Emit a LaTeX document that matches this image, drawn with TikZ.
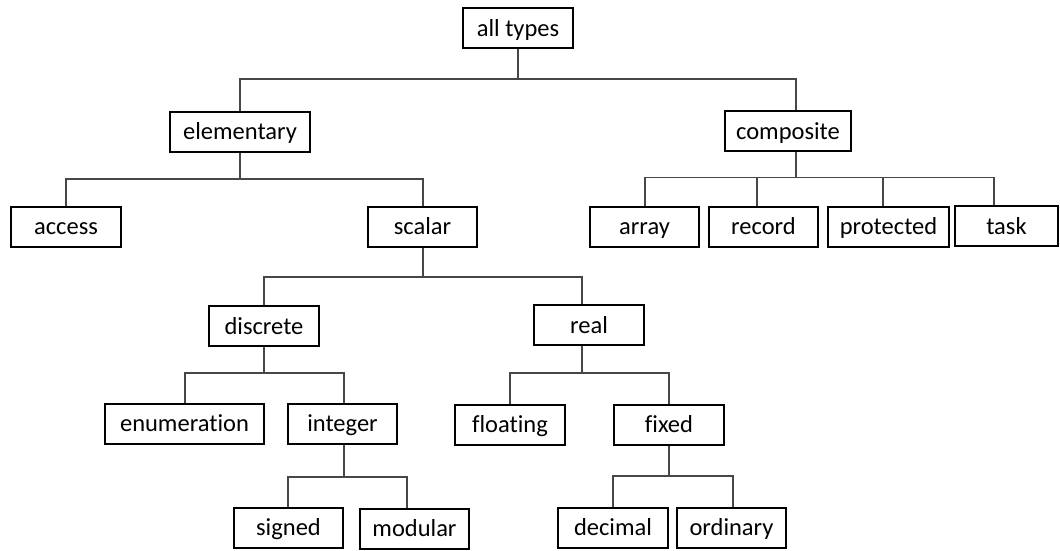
\documentclass[tikz,border=0pt]{standalone}
\usepackage{fontspec}
\setmainfont{Carlito}[Ligatures=NoCommon]
\begin{document}
\begin{tikzpicture}[x=1pt,y=-1pt,
  typebox/.style={draw=black, line width=2pt, fill=white, inner sep=0pt,
    minimum height=40pt, text height=21pt, text depth=5pt,
    font=\fontsize{24.5}{28}\selectfont},
  link/.style={draw=black!72, line width=1.1pt}]
\useasboundingbox (0,0) rectangle (1060,550);

% type nodes
\node[typebox, minimum width=110pt] (all)         at (518,28)      {all types};
\node[typebox, minimum width=140pt] (elementary)  at (240,131.5)   {elementary};
\node[typebox, minimum width=126pt] (composite)   at (788,131)     {composite};
\node[typebox, minimum width=110pt] (access)      at (66,226.5)    {access};
\node[typebox, minimum width=109pt] (scalar)      at (422.5,226.5) {scalar};
\node[typebox, minimum width=109pt] (array)       at (644.5,226.5) {array};
\node[typebox, minimum width=109pt] (record)      at (763.5,226.5) {record};
\node[typebox, minimum width=121pt] (protected)   at (888.5,226.5) {protected};
\node[typebox, minimum width=103pt] (task)        at (1006.5,226)  {task};
\node[typebox, minimum width=110pt] (discrete)    at (264,326)     {discrete};
\node[typebox, minimum width=110pt] (real)        at (589,325)     {real};
\node[typebox, minimum width=159pt] (enumeration) at (184.5,423.5) {enumeration};
\node[typebox, minimum width=109pt] (integer)     at (342.5,423.5) {integer};
\node[typebox, minimum width=110pt] (floating)    at (510,424.5)   {floating};
\node[typebox, minimum width=110pt] (fixed)       at (669,424.5)   {fixed};
\node[typebox, minimum width=109pt] (signed)      at (288.5,527.5) {signed};
\node[typebox, minimum width=109pt] (modular)     at (414.5,528.5) {modular};
\node[typebox, minimum width=110pt] (decimal)     at (613,527.5)   {decimal};
\node[typebox, minimum width=109pt] (ordinary)    at (731.5,527.5) {ordinary};

% branch points below each parent
\coordinate (b0) at (518,79);
\coordinate (b1) at (240,179);
\coordinate (b2) at (796,177.5);
\coordinate (b3) at (423,277);
\coordinate (b4) at (264,373);
\coordinate (b5) at (582,373);
\coordinate (b6) at (344,477);
\coordinate (b7) at (669,476);

% all types
\draw[link] (all.south) -- (b0);
\draw[link] (elementary.north) |- (b0);
\draw[link] ([xshift=8pt]composite.north) |- (b0);

% elementary
\draw[link] (elementary.south) -- (b1);
\draw[link] (access.north) |- (b1);
\draw[link] ([xshift=0.5pt]scalar.north) |- (b1);

% composite
\draw[link] ([xshift=8pt]composite.south) -- (b2);
\draw[link] ([xshift=0.5pt]array.north) |- (b2);
\draw[link] ([xshift=-6.5pt]record.north) |- (b2);
\draw[link] ([xshift=-5.5pt]protected.north) |- (b2);
\draw[link] ([xshift=-12.5pt]task.north) |- (b2);

% scalar
\draw[link] ([xshift=0.5pt]scalar.south) -- (b3);
\draw[link] (discrete.north) |- (b3);
\draw[link] ([xshift=-7pt]real.north) |- (b3);

% discrete
\draw[link] (discrete.south) -- (b4);
\draw[link] ([xshift=0.5pt]enumeration.north) |- (b4);
\draw[link] ([xshift=1.5pt]integer.north) |- (b4);

% real
\draw[link] ([xshift=-7pt]real.south) -- (b5);
\draw[link] (floating.north) |- (b5);
\draw[link] (fixed.north) |- (b5);

% integer
\draw[link] ([xshift=1.5pt]integer.south) -- (b6);
\draw[link] ([xshift=-0.5pt]signed.north) |- (b6);
\draw[link] ([xshift=-7.5pt]modular.north) |- (b6);

% fixed
\draw[link] (fixed.south) -- (b7);
\draw[link] (decimal.north) |- (b7);
\draw[link] ([xshift=1.5pt]ordinary.north) |- (b7);
\end{tikzpicture}
\end{document}
